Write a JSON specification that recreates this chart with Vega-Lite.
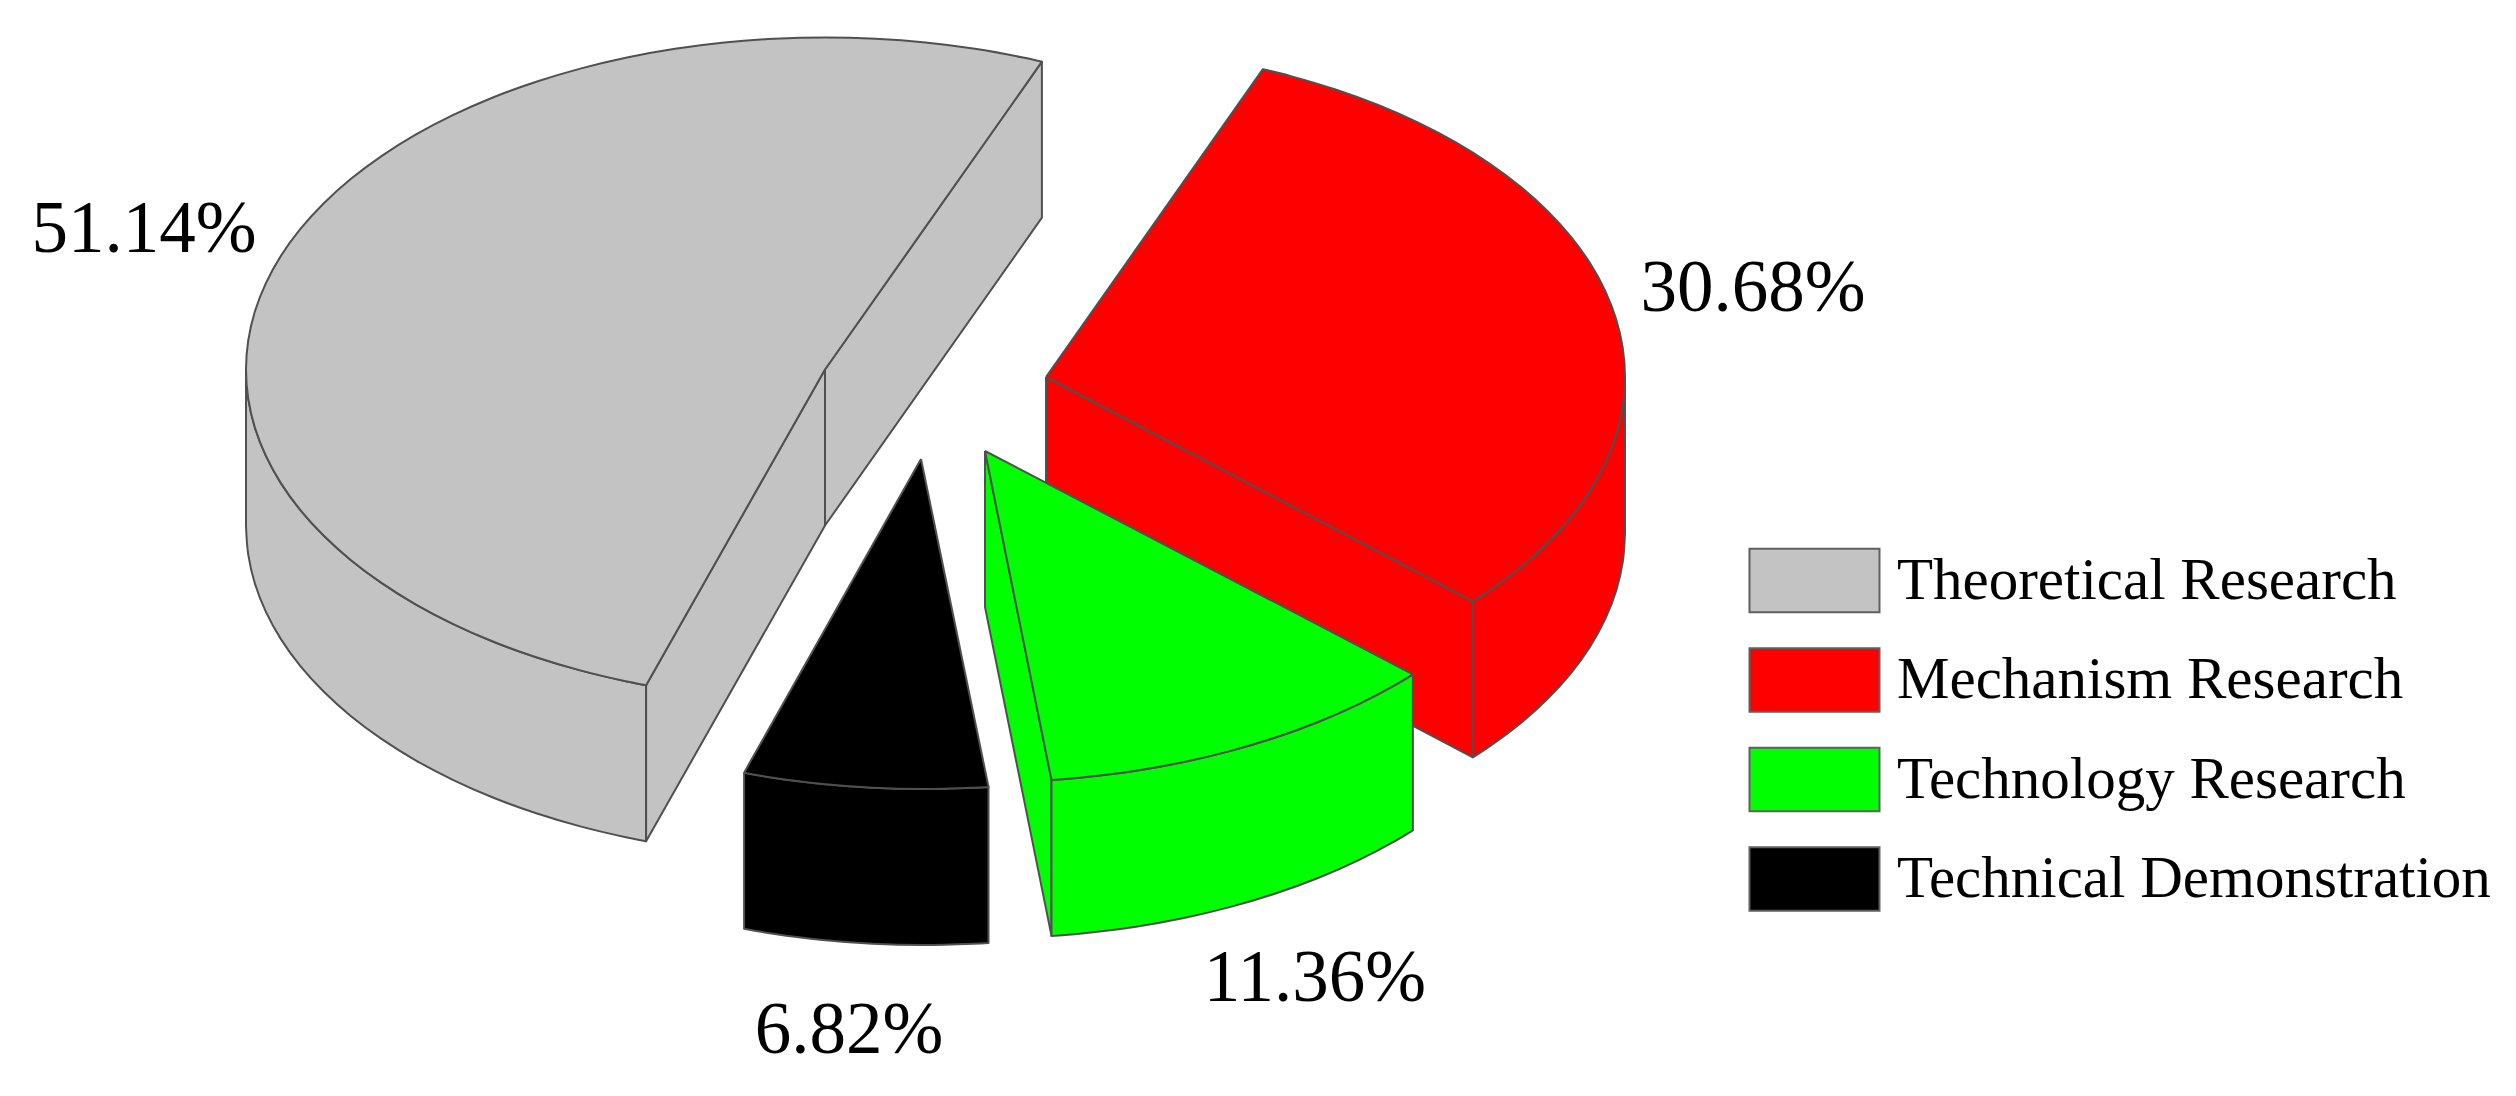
{"$schema":"https://vega.github.io/schema/vega-lite/v6.json","width":2516,"height":1096,"padding":0,"autosize":"none","background":"white","config":{"view":{"stroke":null}},
"datasets":{"faces":[
{"s":"Theoretical Research","f":"g-side","x":246,"y":369.5},{"s":"Theoretical Research","f":"g-side","x":248.2,"y":398.4},{"s":"Theoretical Research","f":"g-side","x":254.8,"y":427.2},{"s":"Theoretical Research","f":"g-side","x":265.7,"y":455.4},{"s":"Theoretical Research","f":"g-side","x":280.9,"y":483.1},{"s":"Theoretical Research","f":"g-side","x":300.2,"y":509.8},{"s":"Theoretical Research","f":"g-side","x":323.6,"y":535.5},{"s":"Theoretical Research","f":"g-side","x":350.7,"y":559.9},{"s":"Theoretical Research","f":"g-side","x":381.5,"y":582.9},{"s":"Theoretical Research","f":"g-side","x":415.6,"y":604.3},{"s":"Theoretical Research","f":"g-side","x":452.8,"y":623.8},{"s":"Theoretical Research","f":"g-side","x":492.9,"y":641.5},{"s":"Theoretical Research","f":"g-side","x":535.5,"y":657},{"s":"Theoretical Research","f":"g-side","x":580.3,"y":670.4},{"s":"Theoretical Research","f":"g-side","x":627,"y":681.5},{"s":"Theoretical Research","f":"g-side","x":646.1,"y":685.2},{"s":"Theoretical Research","f":"g-side","x":646.1,"y":685.2},{"s":"Theoretical Research","f":"g-side","x":646.1,"y":841.2},{"s":"Theoretical Research","f":"g-side","x":646.1,"y":841.2},{"s":"Theoretical Research","f":"g-side","x":627,"y":837.5},{"s":"Theoretical Research","f":"g-side","x":580.3,"y":826.4},{"s":"Theoretical Research","f":"g-side","x":535.5,"y":813},{"s":"Theoretical Research","f":"g-side","x":492.9,"y":797.5},{"s":"Theoretical Research","f":"g-side","x":452.8,"y":779.8},{"s":"Theoretical Research","f":"g-side","x":415.6,"y":760.3},{"s":"Theoretical Research","f":"g-side","x":381.5,"y":738.9},{"s":"Theoretical Research","f":"g-side","x":350.7,"y":715.9},{"s":"Theoretical Research","f":"g-side","x":323.6,"y":691.5},{"s":"Theoretical Research","f":"g-side","x":300.2,"y":665.8},{"s":"Theoretical Research","f":"g-side","x":280.9,"y":639.1},{"s":"Theoretical Research","f":"g-side","x":265.7,"y":611.4},{"s":"Theoretical Research","f":"g-side","x":254.8,"y":583.2},{"s":"Theoretical Research","f":"g-side","x":248.2,"y":554.4},{"s":"Theoretical Research","f":"g-side","x":246,"y":525.5},{"s":"Theoretical Research","f":"g-side","x":246,"y":525.5},{"s":"Theoretical Research","f":"g-side","x":246,"y":369.5},
{"s":"Theoretical Research","f":"g-cut1","x":646.1,"y":685.2},{"s":"Theoretical Research","f":"g-cut1","x":646.1,"y":685.2},{"s":"Theoretical Research","f":"g-cut1","x":825,"y":369.5},{"s":"Theoretical Research","f":"g-cut1","x":825,"y":369.5},{"s":"Theoretical Research","f":"g-cut1","x":825,"y":525.5},{"s":"Theoretical Research","f":"g-cut1","x":825,"y":525.5},{"s":"Theoretical Research","f":"g-cut1","x":646.1,"y":841.2},{"s":"Theoretical Research","f":"g-cut1","x":646.1,"y":841.2},{"s":"Theoretical Research","f":"g-cut1","x":646.1,"y":685.2},{"s":"Theoretical Research","f":"g-cut1","x":646.1,"y":685.2},
{"s":"Theoretical Research","f":"g-cut2","x":825,"y":369.5},{"s":"Theoretical Research","f":"g-cut2","x":825,"y":369.5},{"s":"Theoretical Research","f":"g-cut2","x":1041.9,"y":61.7},{"s":"Theoretical Research","f":"g-cut2","x":1041.9,"y":61.7},{"s":"Theoretical Research","f":"g-cut2","x":1041.9,"y":217.7},{"s":"Theoretical Research","f":"g-cut2","x":1041.9,"y":217.7},{"s":"Theoretical Research","f":"g-cut2","x":825,"y":525.5},{"s":"Theoretical Research","f":"g-cut2","x":825,"y":525.5},{"s":"Theoretical Research","f":"g-cut2","x":825,"y":369.5},{"s":"Theoretical Research","f":"g-cut2","x":825,"y":369.5},
{"s":"Theoretical Research","f":"g-top","x":825,"y":369.5},{"s":"Theoretical Research","f":"g-top","x":825,"y":369.5},{"s":"Theoretical Research","f":"g-top","x":1041.9,"y":61.7},{"s":"Theoretical Research","f":"g-top","x":1041.9,"y":61.7},{"s":"Theoretical Research","f":"g-top","x":1023,"y":57.5},{"s":"Theoretical Research","f":"g-top","x":974.9,"y":48.8},{"s":"Theoretical Research","f":"g-top","x":925.5,"y":42.5},{"s":"Theoretical Research","f":"g-top","x":875.5,"y":38.8},{"s":"Theoretical Research","f":"g-top","x":825,"y":37.5},{"s":"Theoretical Research","f":"g-top","x":774.5,"y":38.8},{"s":"Theoretical Research","f":"g-top","x":724.5,"y":42.5},{"s":"Theoretical Research","f":"g-top","x":675.1,"y":48.8},{"s":"Theoretical Research","f":"g-top","x":627,"y":57.5},{"s":"Theoretical Research","f":"g-top","x":580.3,"y":68.6},{"s":"Theoretical Research","f":"g-top","x":535.5,"y":82},{"s":"Theoretical Research","f":"g-top","x":492.9,"y":97.5},{"s":"Theoretical Research","f":"g-top","x":452.8,"y":115.2},{"s":"Theoretical Research","f":"g-top","x":415.6,"y":134.7},{"s":"Theoretical Research","f":"g-top","x":381.5,"y":156.1},{"s":"Theoretical Research","f":"g-top","x":350.7,"y":179.1},{"s":"Theoretical Research","f":"g-top","x":323.6,"y":203.5},{"s":"Theoretical Research","f":"g-top","x":300.2,"y":229.2},{"s":"Theoretical Research","f":"g-top","x":280.9,"y":255.9},{"s":"Theoretical Research","f":"g-top","x":265.7,"y":283.6},{"s":"Theoretical Research","f":"g-top","x":254.8,"y":311.8},{"s":"Theoretical Research","f":"g-top","x":248.2,"y":340.6},{"s":"Theoretical Research","f":"g-top","x":246,"y":369.5},{"s":"Theoretical Research","f":"g-top","x":248.2,"y":398.4},{"s":"Theoretical Research","f":"g-top","x":254.8,"y":427.2},{"s":"Theoretical Research","f":"g-top","x":265.7,"y":455.4},{"s":"Theoretical Research","f":"g-top","x":280.9,"y":483.1},{"s":"Theoretical Research","f":"g-top","x":300.2,"y":509.8},{"s":"Theoretical Research","f":"g-top","x":323.6,"y":535.5},{"s":"Theoretical Research","f":"g-top","x":350.7,"y":559.9},{"s":"Theoretical Research","f":"g-top","x":381.5,"y":582.9},{"s":"Theoretical Research","f":"g-top","x":415.6,"y":604.3},{"s":"Theoretical Research","f":"g-top","x":452.8,"y":623.8},{"s":"Theoretical Research","f":"g-top","x":492.9,"y":641.5},{"s":"Theoretical Research","f":"g-top","x":535.5,"y":657},{"s":"Theoretical Research","f":"g-top","x":580.3,"y":670.4},{"s":"Theoretical Research","f":"g-top","x":627,"y":681.5},{"s":"Theoretical Research","f":"g-top","x":646.1,"y":685.2},{"s":"Theoretical Research","f":"g-top","x":646.1,"y":685.2},{"s":"Theoretical Research","f":"g-top","x":825,"y":369.5},{"s":"Theoretical Research","f":"g-top","x":825,"y":369.5},
{"s":"Mechanism Research","f":"r-cut","x":1046,"y":377},{"s":"Mechanism Research","f":"r-cut","x":1046,"y":377},{"s":"Mechanism Research","f":"r-cut","x":1472.9,"y":601.3},{"s":"Mechanism Research","f":"r-cut","x":1472.9,"y":601.3},{"s":"Mechanism Research","f":"r-cut","x":1472.9,"y":757.3},{"s":"Mechanism Research","f":"r-cut","x":1472.9,"y":757.3},{"s":"Mechanism Research","f":"r-cut","x":1046,"y":533},{"s":"Mechanism Research","f":"r-cut","x":1046,"y":533},{"s":"Mechanism Research","f":"r-cut","x":1046,"y":377},{"s":"Mechanism Research","f":"r-cut","x":1046,"y":377},
{"s":"Mechanism Research","f":"r-side","x":1625,"y":377},{"s":"Mechanism Research","f":"r-side","x":1622.8,"y":405.9},{"s":"Mechanism Research","f":"r-side","x":1616.2,"y":434.7},{"s":"Mechanism Research","f":"r-side","x":1605.3,"y":462.9},{"s":"Mechanism Research","f":"r-side","x":1590.1,"y":490.6},{"s":"Mechanism Research","f":"r-side","x":1570.8,"y":517.3},{"s":"Mechanism Research","f":"r-side","x":1547.4,"y":543},{"s":"Mechanism Research","f":"r-side","x":1520.3,"y":567.4},{"s":"Mechanism Research","f":"r-side","x":1489.5,"y":590.4},{"s":"Mechanism Research","f":"r-side","x":1472.9,"y":601.3},{"s":"Mechanism Research","f":"r-side","x":1472.9,"y":601.3},{"s":"Mechanism Research","f":"r-side","x":1472.9,"y":757.3},{"s":"Mechanism Research","f":"r-side","x":1472.9,"y":757.3},{"s":"Mechanism Research","f":"r-side","x":1489.5,"y":746.4},{"s":"Mechanism Research","f":"r-side","x":1520.3,"y":723.4},{"s":"Mechanism Research","f":"r-side","x":1547.4,"y":699},{"s":"Mechanism Research","f":"r-side","x":1570.8,"y":673.3},{"s":"Mechanism Research","f":"r-side","x":1590.1,"y":646.6},{"s":"Mechanism Research","f":"r-side","x":1605.3,"y":618.9},{"s":"Mechanism Research","f":"r-side","x":1616.2,"y":590.7},{"s":"Mechanism Research","f":"r-side","x":1622.8,"y":561.9},{"s":"Mechanism Research","f":"r-side","x":1625,"y":533},{"s":"Mechanism Research","f":"r-side","x":1625,"y":533},{"s":"Mechanism Research","f":"r-side","x":1625,"y":377},
{"s":"Mechanism Research","f":"r-top","x":1046,"y":377},{"s":"Mechanism Research","f":"r-top","x":1046,"y":377},{"s":"Mechanism Research","f":"r-top","x":1262.9,"y":69.2},{"s":"Mechanism Research","f":"r-top","x":1262.9,"y":69.2},{"s":"Mechanism Research","f":"r-top","x":1290.7,"y":76.1},{"s":"Mechanism Research","f":"r-top","x":1335.5,"y":89.5},{"s":"Mechanism Research","f":"r-top","x":1378.1,"y":105},{"s":"Mechanism Research","f":"r-top","x":1418.2,"y":122.7},{"s":"Mechanism Research","f":"r-top","x":1455.4,"y":142.2},{"s":"Mechanism Research","f":"r-top","x":1489.5,"y":163.6},{"s":"Mechanism Research","f":"r-top","x":1520.3,"y":186.6},{"s":"Mechanism Research","f":"r-top","x":1547.4,"y":211},{"s":"Mechanism Research","f":"r-top","x":1570.8,"y":236.7},{"s":"Mechanism Research","f":"r-top","x":1590.1,"y":263.4},{"s":"Mechanism Research","f":"r-top","x":1605.3,"y":291.1},{"s":"Mechanism Research","f":"r-top","x":1616.2,"y":319.3},{"s":"Mechanism Research","f":"r-top","x":1622.8,"y":348.1},{"s":"Mechanism Research","f":"r-top","x":1625,"y":377},{"s":"Mechanism Research","f":"r-top","x":1622.8,"y":405.9},{"s":"Mechanism Research","f":"r-top","x":1616.2,"y":434.7},{"s":"Mechanism Research","f":"r-top","x":1605.3,"y":462.9},{"s":"Mechanism Research","f":"r-top","x":1590.1,"y":490.6},{"s":"Mechanism Research","f":"r-top","x":1570.8,"y":517.3},{"s":"Mechanism Research","f":"r-top","x":1547.4,"y":543},{"s":"Mechanism Research","f":"r-top","x":1520.3,"y":567.4},{"s":"Mechanism Research","f":"r-top","x":1489.5,"y":590.4},{"s":"Mechanism Research","f":"r-top","x":1472.9,"y":601.3},{"s":"Mechanism Research","f":"r-top","x":1472.9,"y":601.3},{"s":"Mechanism Research","f":"r-top","x":1046,"y":377},{"s":"Mechanism Research","f":"r-top","x":1046,"y":377},
{"s":"Technology Research","f":"t-left","x":985,"y":451},{"s":"Technology Research","f":"t-left","x":985,"y":451},{"s":"Technology Research","f":"t-left","x":1051.5,"y":779.9},{"s":"Technology Research","f":"t-left","x":1051.5,"y":779.9},{"s":"Technology Research","f":"t-left","x":1051.5,"y":935.9},{"s":"Technology Research","f":"t-left","x":1051.5,"y":935.9},{"s":"Technology Research","f":"t-left","x":985,"y":607},{"s":"Technology Research","f":"t-left","x":985,"y":607},{"s":"Technology Research","f":"t-left","x":985,"y":451},{"s":"Technology Research","f":"t-left","x":985,"y":451},
{"s":"Technology Research","f":"t-side","x":1051.5,"y":779.9},{"s":"Technology Research","f":"t-side","x":1086.5,"y":777},{"s":"Technology Research","f":"t-side","x":1135.9,"y":770.7},{"s":"Technology Research","f":"t-side","x":1184,"y":762},{"s":"Technology Research","f":"t-side","x":1230.7,"y":750.9},{"s":"Technology Research","f":"t-side","x":1275.5,"y":737.5},{"s":"Technology Research","f":"t-side","x":1318.1,"y":722},{"s":"Technology Research","f":"t-side","x":1358.2,"y":704.3},{"s":"Technology Research","f":"t-side","x":1395.4,"y":684.8},{"s":"Technology Research","f":"t-side","x":1412.9,"y":674.3},{"s":"Technology Research","f":"t-side","x":1412.9,"y":674.3},{"s":"Technology Research","f":"t-side","x":1412.9,"y":830.3},{"s":"Technology Research","f":"t-side","x":1412.9,"y":830.3},{"s":"Technology Research","f":"t-side","x":1395.4,"y":840.8},{"s":"Technology Research","f":"t-side","x":1358.2,"y":860.3},{"s":"Technology Research","f":"t-side","x":1318.1,"y":878},{"s":"Technology Research","f":"t-side","x":1275.5,"y":893.5},{"s":"Technology Research","f":"t-side","x":1230.7,"y":906.9},{"s":"Technology Research","f":"t-side","x":1184,"y":918},{"s":"Technology Research","f":"t-side","x":1135.9,"y":926.7},{"s":"Technology Research","f":"t-side","x":1086.5,"y":933},{"s":"Technology Research","f":"t-side","x":1051.5,"y":935.9},{"s":"Technology Research","f":"t-side","x":1051.5,"y":935.9},{"s":"Technology Research","f":"t-side","x":1051.5,"y":779.9},
{"s":"Technology Research","f":"t-top","x":985,"y":451},{"s":"Technology Research","f":"t-top","x":985,"y":451},{"s":"Technology Research","f":"t-top","x":1412.9,"y":674.3},{"s":"Technology Research","f":"t-top","x":1412.9,"y":674.3},{"s":"Technology Research","f":"t-top","x":1395.4,"y":684.8},{"s":"Technology Research","f":"t-top","x":1358.2,"y":704.3},{"s":"Technology Research","f":"t-top","x":1318.1,"y":722},{"s":"Technology Research","f":"t-top","x":1275.5,"y":737.5},{"s":"Technology Research","f":"t-top","x":1230.7,"y":750.9},{"s":"Technology Research","f":"t-top","x":1184,"y":762},{"s":"Technology Research","f":"t-top","x":1135.9,"y":770.7},{"s":"Technology Research","f":"t-top","x":1086.5,"y":777},{"s":"Technology Research","f":"t-top","x":1051.5,"y":779.9},{"s":"Technology Research","f":"t-top","x":1051.5,"y":779.9},{"s":"Technology Research","f":"t-top","x":985,"y":451},{"s":"Technology Research","f":"t-top","x":985,"y":451},
{"s":"Technical Demonstration","f":"d-side","x":744.1,"y":772.7},{"s":"Technical Demonstration","f":"d-side","x":773.1,"y":777.7},{"s":"Technical Demonstration","f":"d-side","x":822.5,"y":784},{"s":"Technical Demonstration","f":"d-side","x":872.5,"y":787.7},{"s":"Technical Demonstration","f":"d-side","x":923,"y":789},{"s":"Technical Demonstration","f":"d-side","x":973.5,"y":787.7},{"s":"Technical Demonstration","f":"d-side","x":988.5,"y":786.9},{"s":"Technical Demonstration","f":"d-side","x":988.5,"y":786.9},{"s":"Technical Demonstration","f":"d-side","x":988.5,"y":942.9},{"s":"Technical Demonstration","f":"d-side","x":988.5,"y":942.9},{"s":"Technical Demonstration","f":"d-side","x":973.5,"y":943.7},{"s":"Technical Demonstration","f":"d-side","x":923,"y":945},{"s":"Technical Demonstration","f":"d-side","x":872.5,"y":943.7},{"s":"Technical Demonstration","f":"d-side","x":822.5,"y":940},{"s":"Technical Demonstration","f":"d-side","x":773.1,"y":933.7},{"s":"Technical Demonstration","f":"d-side","x":744.1,"y":928.7},{"s":"Technical Demonstration","f":"d-side","x":744.1,"y":928.7},{"s":"Technical Demonstration","f":"d-side","x":744.1,"y":772.7},
{"s":"Technical Demonstration","f":"d-top","x":921,"y":459},{"s":"Technical Demonstration","f":"d-top","x":921,"y":459},{"s":"Technical Demonstration","f":"d-top","x":988.5,"y":786.9},{"s":"Technical Demonstration","f":"d-top","x":988.5,"y":786.9},{"s":"Technical Demonstration","f":"d-top","x":973.5,"y":787.7},{"s":"Technical Demonstration","f":"d-top","x":923,"y":789},{"s":"Technical Demonstration","f":"d-top","x":872.5,"y":787.7},{"s":"Technical Demonstration","f":"d-top","x":822.5,"y":784},{"s":"Technical Demonstration","f":"d-top","x":773.1,"y":777.7},{"s":"Technical Demonstration","f":"d-top","x":744.1,"y":772.7},{"s":"Technical Demonstration","f":"d-top","x":744.1,"y":772.7},{"s":"Technical Demonstration","f":"d-top","x":921,"y":459},{"s":"Technical Demonstration","f":"d-top","x":921,"y":459}
],
"labels":[{"s":"Theoretical Research","share":"51.14%","x":144,"y":252},{"s":"Mechanism Research","share":"30.68%","x":1753,"y":311},{"s":"Technology Research","share":"11.36%","x":1315,"y":1001},{"s":"Technical Demonstration","share":"6.82%","x":849,"y":1053}]},
"layer":[
{"data":{"name":"faces"},"mark":{"type":"line","filled":true,"interpolate":"catmull-rom","stroke":"#505050","strokeWidth":2,"strokeJoin":"round"},
"encoding":{"x":{"field":"x","type":"quantitative","axis":null,"scale":{"domain":[0,2516],"nice":false,"zero":false}},
"y":{"field":"y","type":"quantitative","axis":null,"scale":{"domain":[1096,0],"nice":false,"zero":false}},
"detail":{"field":"f"},"order":{"value":null},
"fill":{"field":"s","type":"nominal","scale":{"domain":["Theoretical Research","Mechanism Research","Technology Research","Technical Demonstration"],"range":["#c3c3c3","#ff0000","#00ff00","#000000"]},
"legend":{"title":null,"orient":"none","legendX":1781,"legendY":547,"padding":0,"symbolType":"M-2,-0.98H2V0.98H-2Z","symbolSize":4225,"symbolStrokeColor":"#606060","symbolStrokeWidth":2,"symbolOpacity":1,"labelFont":"Liberation Serif","labelFontSize":59,"labelColor":"#000000","labelOffset":49,"labelLimit":900,"rowPadding":26.5,"values":["Theoretical Research","Mechanism Research","Technology Research","Technical Demonstration"]}}}},
{"data":{"name":"labels"},"mark":{"type":"text","font":"Liberation Serif","fontSize":73,"align":"center","baseline":"alphabetic","color":"#000000"},
"encoding":{"x":{"field":"x","type":"quantitative"},"y":{"field":"y","type":"quantitative"},"text":{"field":"share","type":"nominal"}}}
]}
